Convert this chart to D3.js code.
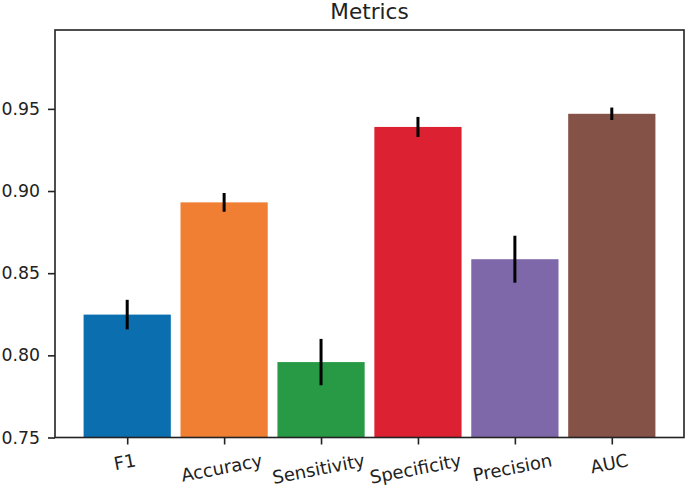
<!DOCTYPE html>
<html><head><meta charset="utf-8">
<script src="https://cdn.jsdelivr.net/npm/d3@7"></script>
<style>body{margin:0;background:#fff;} svg{display:block;font-family:"DejaVu Sans",sans-serif;}</style>
</head><body>
<svg id="c" width="685" height="493"></svg>
<script>
const categories = ["F1","Accuracy","Sensitivity","Specificity","Precision","AUC"];
const values = [0.8248, 0.8931, 0.7959, 0.9390, 0.8585, 0.9470];
const errors = [0.0090, 0.0057, 0.0141, 0.0061, 0.0143, 0.0038];
const colors = ["#0A6EAF","#F07F33","#289A45","#DC2232","#7F68A9","#855248"];
const yTicks = [0.75, 0.80, 0.85, 0.90, 0.95];
const title = "Metrics";

const svg = d3.select("#c");
const L = 55, R = 684, T = 30, B = 437.5;
const x = d3.scaleLinear().domain([-0.745, categories.length - 1 + 0.745]).range([L, R]);
const y = d3.scaleLinear().domain([0.75, 0.998]).range([B, T]);
const bw = x(0.9) - x(0);

svg.append("g").selectAll("rect").data(values).join("rect")
  .attr("x", (d,i) => x(i) - bw/2).attr("width", bw)
  .attr("y", d => y(d)).attr("height", d => B - y(d))
  .attr("fill", (d,i) => colors[i]);

svg.append("g").selectAll("line").data(values).join("line")
  .attr("x1", (d,i) => x(i)).attr("x2", (d,i) => x(i))
  .attr("y1", (d,i) => y(d - errors[i])).attr("y2", (d,i) => y(d + errors[i]))
  .attr("stroke", "#000").attr("stroke-width", 3);

// y axis
const ya = svg.append("g").attr("transform", `translate(${L},0)`)
  .call(d3.axisLeft(y).tickValues(yTicks).tickFormat(d3.format(".2f")).tickSizeInner(7).tickSizeOuter(0).tickPadding(8));
ya.select(".domain").remove();
ya.selectAll("line").attr("stroke", "#222").attr("stroke-width", 1.6);
ya.selectAll("text").attr("font-size", 17.3).attr("fill", "#222").attr("font-family", "DejaVu Sans");

// x axis
const xa = svg.append("g").attr("transform", `translate(0,${B})`)
  .call(d3.axisBottom(x).tickValues(d3.range(categories.length)).tickFormat(i => categories[i]).tickSizeInner(7).tickSizeOuter(0).tickPadding(0));
xa.select(".domain").remove();
xa.selectAll("line").attr("stroke", "#222").attr("stroke-width", 1.6);
const ang = 11 * Math.PI / 180;
xa.selectAll("text").attr("font-size", 18).attr("fill", "#222").attr("font-family", "DejaVu Sans")
  .attr("text-anchor", "middle").attr("dy", null)
  .each(function(d) {
    const t = d3.select(this);
    const w = this.getComputedTextLength();
    const h = 18 * 1.164;
    const half = (w * Math.sin(ang) + h * Math.cos(ang)) / 2;
    const cy = 7 + 5 + half;
    t.attr("y", 0).attr("dominant-baseline", "central")
     .attr("transform", `translate(-3,${cy}) rotate(-11)`);
  });

// frame
svg.append("rect").attr("x", L).attr("y", T).attr("width", R - L).attr("height", B - T)
  .attr("fill", "none").attr("stroke", "#222").attr("stroke-width", 1.6);

svg.append("text").attr("x", (L + R) / 2).attr("y", 19).attr("text-anchor", "middle")
  .attr("font-size", 21.6).attr("fill", "#222").text(title);
</script>
</body></html>
